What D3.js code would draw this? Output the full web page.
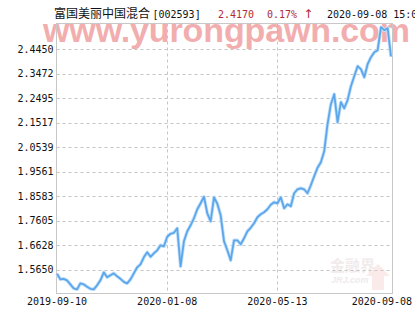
<!DOCTYPE html>
<html>
<head>
<meta charset="utf-8">
<script src="https://cdn.jsdelivr.net/npm/d3@7"></script>
<style>
  body { margin: 0; background: #fff; }
  svg { display: block; }
</style>
</head>
<body>
<script>
// fund NAV, one value per sample across the chart
const navValues = [
  1.5482, 1.5262, 1.5282, 1.5222, 1.5062, 1.4902, 1.4862, 1.5102, 1.5062, 1.4962,
  1.4882, 1.4862, 1.5022, 1.5222, 1.5542, 1.5342, 1.5422, 1.5502, 1.5382, 1.5282,
  1.5162, 1.5102, 1.5262, 1.5502, 1.5742, 1.5862, 1.6142, 1.6342, 1.6162, 1.6302,
  1.6422, 1.6622, 1.6582, 1.6962, 1.7082, 1.7122, 1.7302, 1.5782, 1.6782, 1.7182,
  1.7422, 1.7702, 1.8062, 1.8302, 1.8562, 1.7902, 1.7582, 1.8542, 1.8282, 1.7822,
  1.6790, 1.6422, 1.6022, 1.6822, 1.6822, 1.6662, 1.6902, 1.7182, 1.7322, 1.7502,
  1.7742, 1.7862, 1.7942, 1.8062, 1.8242, 1.8342, 1.8302, 1.8542, 1.8102, 1.8262,
  1.8182, 1.8702, 1.8862, 1.8902, 1.8862, 1.8702, 1.9022, 1.9382, 1.9722, 1.9942,
  2.0382, 2.1462, 2.2262, 2.2662, 2.1542, 2.2342, 2.2102, 2.2422, 2.2982, 2.3382,
  2.3782, 2.3662, 2.3342, 2.3862, 2.4142, 2.4342, 2.4422, 2.5342, 2.5222, 2.5302,
  2.4170
];
const yTickValues = [1.5650, 1.6628, 1.7605, 1.8583, 1.9561, 2.0539, 2.1517, 2.2495, 2.3472, 2.4450];
const yTickLabels = ["1.5650", "1.6628", "1.7605", "1.8583", "1.9561", "2.0539", "2.1517", "2.2495", "2.3472", "2.4450"];
const xTickIndex = [0, 33, 66, 100];
const xTickLabels = ["2019-09-10", "2020-01-08", "2020-05-13", "2020-09-08"];
const titleName = "富国美丽中国混合[002593]";
const lastNav = "2.4170";
const changePct = "0.17%";
const lastTime = "2020-09-08 15:00";

const w = 415, h = 330;
const pLeft = 56.5, pRight = 392.5, pTop = 23.5, pBottom = 293;
const mono = "'DejaVu Sans Mono', 'Liberation Mono', monospace";

const svg = d3.select("body")
  .append("svg")
  .attr("width", w)
  .attr("height", h);

svg.append("rect").attr("width", w).attr("height", h).attr("fill", "#fff");

const x = d3.scaleLinear()
  .domain([0, navValues.length - 1])
  .range([57, 391]);

const y = d3.scaleLinear()
  .domain([1.4715, 2.5489])
  .range([pBottom, pTop]);

// title row
svg.append("text")
  .attr("x", 54).attr("y", 18)
  .style("font-family", "'Noto Sans CJK SC', sans-serif")
  .style("font-size", "12px")
  .attr("fill", "#111")
  .text(titleName.slice(0, 8));
svg.append("text")
  .attr("x", 152.5).attr("y", 18)
  .style("font-family", mono).style("font-size", "10px")
  .attr("fill", "#111")
  .text(titleName.slice(8));
svg.append("text")
  .attr("x", 218).attr("y", 18)
  .style("font-family", mono).style("font-size", "10px")
  .attr("fill", "#b02a34")
  .text(lastNav);
const chg = svg.append("text")
  .attr("x", 267).attr("y", 18)
  .style("font-family", mono).style("font-size", "10px")
  .attr("fill", "#b02a34");
chg.append("tspan").text(changePct + " ");
chg.append("tspan")
  .style("font-family", "'DejaVu Sans', sans-serif")
  .style("font-size", "12px")
  .text("↑");
svg.append("text")
  .attr("x", 327).attr("y", 18)
  .style("font-family", mono).style("font-size", "10px")
  .attr("fill", "#111")
  .text(lastTime);

// grid
svg.append("g")
  .selectAll("line")
  .data(yTickValues)
  .enter()
  .append("line")
  .attr("x1", pLeft).attr("x2", pRight)
  .attr("y1", d => Math.round(y(d)) + 0.5)
  .attr("y2", d => Math.round(y(d)) + 0.5)
  .attr("stroke", "#c4c4c4")
  .attr("stroke-dasharray", "3,3");

svg.append("g")
  .selectAll("line")
  .data(xTickIndex.slice(1, 3))
  .enter()
  .append("line")
  .attr("x1", d => Math.round(x(d)) + 0.5)
  .attr("x2", d => Math.round(x(d)) + 0.5)
  .attr("y1", pTop).attr("y2", pBottom)
  .attr("stroke", "#c4c4c4")
  .attr("stroke-dasharray", "3,3");

// watermark
svg.append("text")
  .attr("x", 43).attr("y", 42)
  .attr("textLength", 367)
  .style("font-family", "'Liberation Sans', Arial, sans-serif")
  .style("font-weight", "bold")
  .style("font-size", "34px")
  .attr("fill", "#f09a9a")
  .attr("opacity", 0.8)
  .text("www.yurongpawn.com");

const logo = svg.append("g").attr("opacity", 0.35);
logo.append("text")
  .attr("x", 330).attr("y", 271)
  .style("font-family", "'Noto Sans CJK SC', sans-serif")
  .style("font-size", "15px").style("font-weight", "bold")
  .attr("fill", "#d8c8c8")
  .text("金融界");
logo.append("text")
  .attr("x", 331).attr("y", 283)
  .style("font-family", "'Liberation Sans', sans-serif")
  .style("font-size", "9px").style("font-weight", "bold")
  .style("font-style", "italic")
  .attr("fill", "#d0c4c8")
  .text("JRJ.com");
logo.append("path")
  .attr("d", "M372,290 L372,276 L366,276 L378,264 L390,276 L384,276 L384,290 Z")
  .attr("fill", "#f2c4c4");

// frame
svg.append("rect")
  .attr("x", pLeft).attr("y", pTop)
  .attr("width", pRight - pLeft).attr("height", pBottom - pTop + 0.5)
  .attr("fill", "none")
  .attr("stroke", "#c8c8c8");

// NAV line
const line = d3.line()
  .x((d, i) => x(i))
  .y(d => y(d));

svg.append("path")
  .datum(navValues)
  .attr("d", line)
  .attr("fill", "none")
  .attr("stroke", "#bfe0fb")
  .attr("stroke-width", 3.5)
  .attr("stroke-linejoin", "round");
svg.append("path")
  .datum(navValues)
  .attr("d", line)
  .attr("fill", "none")
  .attr("stroke", "#5ea6ea")
  .attr("stroke-width", 1.8)
  .attr("stroke-linejoin", "round");

// y labels
svg.append("g")
  .selectAll("text")
  .data(yTickValues)
  .enter()
  .append("text")
  .attr("x", 53.5)
  .attr("y", d => y(d) + 3.5)
  .attr("text-anchor", "end")
  .style("font-family", mono).style("font-size", "10px")
  .attr("fill", "#111")
  .text((d, i) => yTickLabels[i]);

// x labels, last one pulled inside the window
svg.append("g")
  .selectAll("text")
  .data(xTickIndex)
  .enter()
  .append("text")
  .attr("x", (d, i) => i === xTickIndex.length - 1 ? 412 : x(d))
  .attr("y", 305)
  .attr("text-anchor", (d, i) => i === xTickIndex.length - 1 ? "end" : "middle")
  .style("font-family", mono).style("font-size", "10px")
  .attr("fill", "#111")
  .text((d, i) => xTickLabels[i]);
</script>
</body>
</html>
